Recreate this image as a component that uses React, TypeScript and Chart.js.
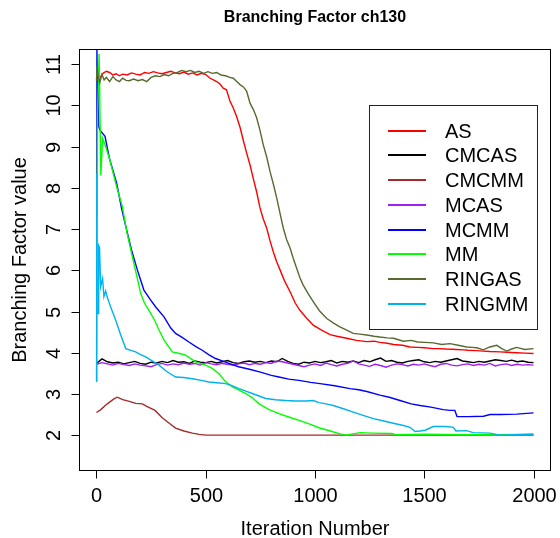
import React, { useEffect, useRef } from "react";
import { Chart, registerables } from "chart.js";

Chart.register(...registerables);

const seriesNames = ["AS", "CMCAS", "CMCMM", "MCAS", "MCMM", "MM", "RINGAS", "RINGMM"];
const seriesColors = ["#FF0000", "#000000", "#A52A2A", "#A020F0", "#0000FF", "#00FF00", "#556B2F", "#00B2EE"];

const xTicks = [0, 500, 1000, 1500, 2000];
const yTicks = [2, 3, 4, 5, 6, 7, 8, 9, 10, 11];

const asX = [0, 10, 20, 30, 45, 60, 75, 90, 105, 120, 140, 160, 180, 200, 220, 240, 260, 280, 300, 320, 340, 360, 380, 400, 420, 440, 460, 480, 500, 520, 535, 550, 565, 580, 595, 611, 625, 640, 657, 672, 687, 703, 718, 733, 748, 763, 779, 794, 809, 825, 840, 860, 886, 910, 931, 960, 992, 1030, 1069, 1100, 1145, 1190, 1237, 1270, 1297, 1330, 1360, 1400, 1435, 1470, 1500, 1541, 1570, 1600, 1648, 1680, 1700, 1740, 1770, 1800, 1847, 1880, 1923, 1960, 2000];
const asY = [10.72, 10.65, 10.7, 10.78, 10.83, 10.8, 10.74, 10.77, 10.72, 10.76, 10.74, 10.79, 10.76, 10.74, 10.8, 10.78, 10.82, 10.79, 10.77, 10.8, 10.83, 10.79, 10.77, 10.81, 10.76, 10.79, 10.74, 10.78, 10.75, 10.66, 10.62, 10.58, 10.52, 10.42, 10.38, 10.1, 9.95, 9.75, 9.47, 9.15, 8.85, 8.55, 8.22, 7.9, 7.52, 7.25, 7.02, 6.72, 6.45, 6.2, 6.01, 5.75, 5.48, 5.2, 5.03, 4.85, 4.67, 4.55, 4.44, 4.4, 4.35, 4.3, 4.27, 4.28, 4.25, 4.23, 4.2, 4.18, 4.14, 4.13, 4.12, 4.1, 4.1, 4.09, 4.08, 4.07, 4.06, 4.05, 4.04, 4.03, 4.02, 4.01, 4.0, 3.99, 3.98];

// CMCAS and MCAS are sampled every 25 iterations
const flatStep = 25;
const cmcasY = [3.74, 3.85, 3.78, 3.75, 3.77, 3.73, 3.76, 3.79, 3.74, 3.72, 3.77, 3.75, 3.79, 3.76, 3.81, 3.77, 3.78, 3.74, 3.8, 3.77, 3.76, 3.79, 3.75, 3.78, 3.81, 3.76, 3.74, 3.78, 3.8, 3.77, 3.79, 3.76, 3.8, 3.78, 3.86, 3.79, 3.74, 3.72, 3.77, 3.75, 3.79, 3.76, 3.78, 3.81, 3.75, 3.79, 3.77, 3.8, 3.76, 3.81, 3.78, 3.83, 3.87, 3.79, 3.81, 3.77, 3.75, 3.79, 3.81, 3.83, 3.78, 3.76, 3.79, 3.77, 3.8, 3.83, 3.86, 3.8, 3.78, 3.76, 3.79, 3.77, 3.8, 3.83, 3.81, 3.79, 3.82, 3.78, 3.8, 3.77, 3.76];
const mcasY = [3.72, 3.76, 3.73, 3.7, 3.74, 3.71, 3.69, 3.73, 3.7, 3.68, 3.66, 3.71, 3.74, 3.7, 3.73, 3.71, 3.75, 3.72, 3.74, 3.7, 3.76, 3.73, 3.71, 3.74, 3.72, 3.7, 3.73, 3.75, 3.71, 3.74, 3.72, 3.76, 3.74, 3.8, 3.78, 3.75, 3.72, 3.69, 3.66, 3.7, 3.73, 3.69, 3.75, 3.71, 3.68, 3.72, 3.74, 3.8, 3.73, 3.7, 3.67, 3.72, 3.69, 3.65, 3.7, 3.73, 3.71, 3.68, 3.72, 3.7, 3.73, 3.69, 3.66, 3.72, 3.74, 3.7, 3.68, 3.71, 3.73, 3.69, 3.72, 3.7, 3.74, 3.68, 3.71, 3.73, 3.69, 3.72, 3.7, 3.71, 3.7];
const cmcasX = cmcasY.map((_, i) => i * flatStep);
const mcasX = mcasY.map((_, i) => i * flatStep);

const cmcmmX = [0, 20, 40, 60, 80, 95, 120, 150, 180, 210, 230, 268, 301, 330, 362, 400, 439, 470, 500, 2000];
const cmcmmY = [2.55, 2.62, 2.72, 2.8, 2.88, 2.92, 2.86, 2.82, 2.77, 2.76, 2.7, 2.6, 2.42, 2.3, 2.17, 2.1, 2.05, 2.02, 2.0, 2.0];

const mcmmX = [0, 2, 4, 6, 10, 16, 39, 60, 92, 115, 138, 160, 187, 217, 245, 271, 309, 340, 362, 390, 423, 455, 484, 515, 545, 575, 606, 650, 700, 750, 800, 835, 880, 927, 980, 1023, 1090, 1160, 1200, 1237, 1297, 1340, 1389, 1440, 1481, 1530, 1587, 1618, 1640, 1650, 1700, 1771, 1801, 1850, 1923, 2000];
const mcmmY = [8.3, 11.4, 10.0, 10.6, 9.5, 9.4, 9.25, 8.7, 8.12, 7.5, 6.98, 6.5, 6.01, 5.52, 5.3, 5.11, 4.87, 4.6, 4.47, 4.38, 4.26, 4.15, 4.06, 3.95, 3.86, 3.8, 3.74, 3.66, 3.6, 3.53, 3.45, 3.41, 3.36, 3.33, 3.28, 3.25, 3.2, 3.13, 3.1, 3.06, 2.97, 2.92, 2.84, 2.76, 2.72, 2.68, 2.62, 2.6, 2.6, 2.45, 2.45, 2.46, 2.5, 2.5, 2.51, 2.54];

const mmX = [0, 5, 12, 20, 28, 39, 60, 92, 118, 140, 164, 185, 202, 220, 240, 265, 286, 310, 347, 380, 408, 454, 500, 530, 561, 590, 622, 650, 683, 715, 744, 790, 835, 880, 927, 970, 1018, 1070, 1114, 1144, 1160, 1206, 1260, 1350, 1370, 1500, 1700, 1850, 2000];
const mmY = [3.3, 9.8, 11.25, 8.3, 9.2, 9.05, 8.7, 8.03, 7.55, 6.9, 6.33, 5.85, 5.44, 5.2, 5.03, 4.8, 4.55, 4.3, 4.02, 3.98, 3.94, 3.78, 3.7, 3.62, 3.49, 3.3, 3.17, 3.1, 3.01, 2.9, 2.76, 2.62, 2.52, 2.44, 2.36, 2.28, 2.18, 2.1, 2.03, 2.0, 2.02, 2.06, 2.05, 2.04, 2.01, 2.02, 2.01, 2.01, 2.02];

const ringasX = [0, 3, 8, 15, 25, 35, 45, 60, 75, 90, 105, 120, 135, 150, 170, 190, 210, 230, 250, 270, 290, 310, 330, 350, 370, 390, 410, 430, 450, 470, 490, 510, 530, 550, 570, 590, 610, 626, 642, 658, 672, 687, 703, 718, 733, 748, 763, 779, 794, 809, 825, 840, 855, 870, 886, 901, 916, 931, 946, 970, 992, 1020, 1054, 1085, 1114, 1145, 1175, 1205, 1237, 1270, 1297, 1330, 1360, 1404, 1440, 1470, 1505, 1541, 1580, 1618, 1655, 1694, 1720, 1740, 1770, 1800, 1832, 1855, 1877, 1900, 1923, 1960, 2000];
const ringasY = [10.6, 10.95, 10.7, 10.55, 10.75, 10.62, 10.68, 10.58, 10.7, 10.62, 10.58, 10.66, 10.61, 10.6, 10.64, 10.6, 10.63, 10.58, 10.68, 10.72, 10.7, 10.75, 10.72, 10.78, 10.8, 10.85, 10.82, 10.85, 10.8, 10.83, 10.78, 10.82, 10.78, 10.8, 10.74, 10.72, 10.68, 10.66, 10.58, 10.5, 10.45, 10.35, 10.05, 9.9, 9.7, 9.4, 9.05, 8.75, 8.4, 8.1, 7.75, 7.38, 7.02, 6.75, 6.54, 6.28, 6.05, 5.82, 5.64, 5.42, 5.24, 5.02, 4.83, 4.72, 4.63, 4.55, 4.47, 4.45, 4.43, 4.4, 4.38, 4.36, 4.35, 4.28, 4.3, 4.26, 4.25, 4.24, 4.2, 4.22, 4.18, 4.14, 4.13, 4.12, 4.07, 4.14, 4.18, 4.1, 4.04, 4.09, 4.13, 4.08, 4.1];

const ringmmX = [0, 1, 3, 7, 10, 14, 19, 28, 34, 42, 49, 65, 88, 111, 134, 160, 179, 200, 225, 255, 286, 320, 362, 400, 439, 480, 515, 550, 591, 620, 652, 683, 713, 744, 774, 820, 866, 910, 957, 992, 1018, 1050, 1084, 1130, 1175, 1220, 1267, 1310, 1358, 1400, 1435, 1458, 1480, 1504, 1541, 1600, 1633, 1645, 1694, 1724, 1801, 1847, 1920, 2000];
const ringmmY = [3.3, 8.35, 5.0, 4.95, 6.6, 6.55, 5.6, 5.8, 5.36, 5.5, 5.35, 5.11, 4.79, 4.43, 4.1, 4.05, 4.02, 3.96, 3.9, 3.8, 3.7, 3.55, 3.41, 3.4, 3.37, 3.33, 3.29, 3.27, 3.25, 3.2, 3.13, 3.07, 3.01, 2.95, 2.89, 2.86, 2.84, 2.83, 2.83, 2.84, 2.79, 2.76, 2.72, 2.64, 2.56, 2.48, 2.4, 2.35, 2.29, 2.24, 2.19, 2.09, 2.1, 2.12, 2.21, 2.21, 2.19, 2.1, 2.11, 2.06, 2.05, 2.0, 2.01, 2.02];

const seriesXs = [asX, cmcasX, cmcmmX, mcasX, mcmmX, mmX, ringasX, ringmmX];
const seriesYs = [asY, cmcasY, cmcmmY, mcasY, mcmmY, mmY, ringasY, ringmmY];

const FONT = "'Liberation Sans', Arial, Helvetica, sans-serif";

const rAxesPlugin = {
  id: "rAxes",
  afterDraw(chart: any) {
    const ctx = chart.ctx as CanvasRenderingContext2D;
    const a = chart.chartArea;
    const xs = chart.scales.x;
    const ys = chart.scales.y;
    ctx.save();
    ctx.strokeStyle = "#000";
    ctx.fillStyle = "#000";
    ctx.lineWidth = 1;
    ctx.strokeRect(Math.round(a.left) + 0.5, Math.round(a.top) + 0.5, Math.round(a.right - a.left) - 1, Math.round(a.bottom - a.top) - 1);
    const by = Math.round(a.bottom) - 0.5;
    ctx.font = `20px ${FONT}`;
    ctx.textAlign = "center";
    ctx.textBaseline = "alphabetic";
    for (const v of xTicks) {
      const px = Math.round(xs.getPixelForValue(v)) + 0.5;
      ctx.beginPath();
      ctx.moveTo(px, by);
      ctx.lineTo(px, by + 8);
      ctx.stroke();
      ctx.fillText(String(v), px, 502);
    }
    const lx = Math.round(a.left) + 0.5;
    for (const v of yTicks) {
      const py = Math.round(ys.getPixelForValue(v)) + 0.5;
      ctx.beginPath();
      ctx.moveTo(lx, py);
      ctx.lineTo(lx - 8, py);
      ctx.stroke();
      ctx.save();
      ctx.translate(60, py);
      ctx.rotate(-Math.PI / 2);
      ctx.fillText(String(v), 0, 0);
      ctx.restore();
    }
    ctx.fillText("Iteration Number", (a.left + a.right) / 2, 535);
    ctx.save();
    ctx.translate(26, (a.top + a.bottom) / 2);
    ctx.rotate(-Math.PI / 2);
    ctx.fillText("Branching Factor value", 0, 0);
    ctx.restore();
    ctx.font = `bold 16px ${FONT}`;
    ctx.fillText("Branching Factor ch130", (a.left + a.right) / 2, 22);
    // legend box
    ctx.strokeStyle = "#222";
    ctx.lineWidth = 1;
    ctx.strokeRect(369.5, 105.5, 168, 224);
    ctx.font = `20px ${FONT}`;
    ctx.textAlign = "left";
    ctx.textBaseline = "middle";
    for (let i = 0; i < seriesNames.length; i++) {
      const ry = Math.round(130.7 + i * 24.7);
      ctx.fillStyle = seriesColors[i];
      ctx.fillRect(388, ry - 1, 38, 2);
      ctx.fillStyle = "#000";
      ctx.fillText(seriesNames[i], 445, ry + 1);
    }
    ctx.restore();
  },
};

export default function App() {
  const ref = useRef<HTMLCanvasElement | null>(null);
  useEffect(() => {
    if (!ref.current) return;
    const datasets = seriesNames.map((name, i) => ({
      label: name,
      data: seriesXs[i].map((x, j) => ({ x, y: seriesYs[i][j] })),
      borderColor: seriesColors[i],
      backgroundColor: seriesColors[i],
      borderWidth: 1.4,
      pointRadius: 0,
      tension: 0,
      fill: false,
      order: 7 - i,
    }));
    const chart = new Chart(ref.current, {
      type: "line",
      data: { datasets },
      options: {
        responsive: false,
        animation: false,
        devicePixelRatio: 1,
        layout: { padding: { left: 79, top: 49, right: 9, bottom: 67 } },
        plugins: { legend: { display: false }, tooltip: { enabled: false }, title: { display: false } },
        scales: {
          x: { type: "linear", min: -80, max: 2080, display: false },
          y: { type: "linear", min: 1.13, max: 11.37, display: false },
        },
      },
      plugins: [rAxesPlugin],
    } as any);
    return () => chart.destroy();
  }, []);
  return (
    <div style={{ position: "absolute", left: 0, top: 0, width: 560, height: 538, background: "#fff" }}>
      <canvas ref={ref} width={560} height={538} style={{ width: 560, height: 538, display: "block" }} />
    </div>
  );
}
